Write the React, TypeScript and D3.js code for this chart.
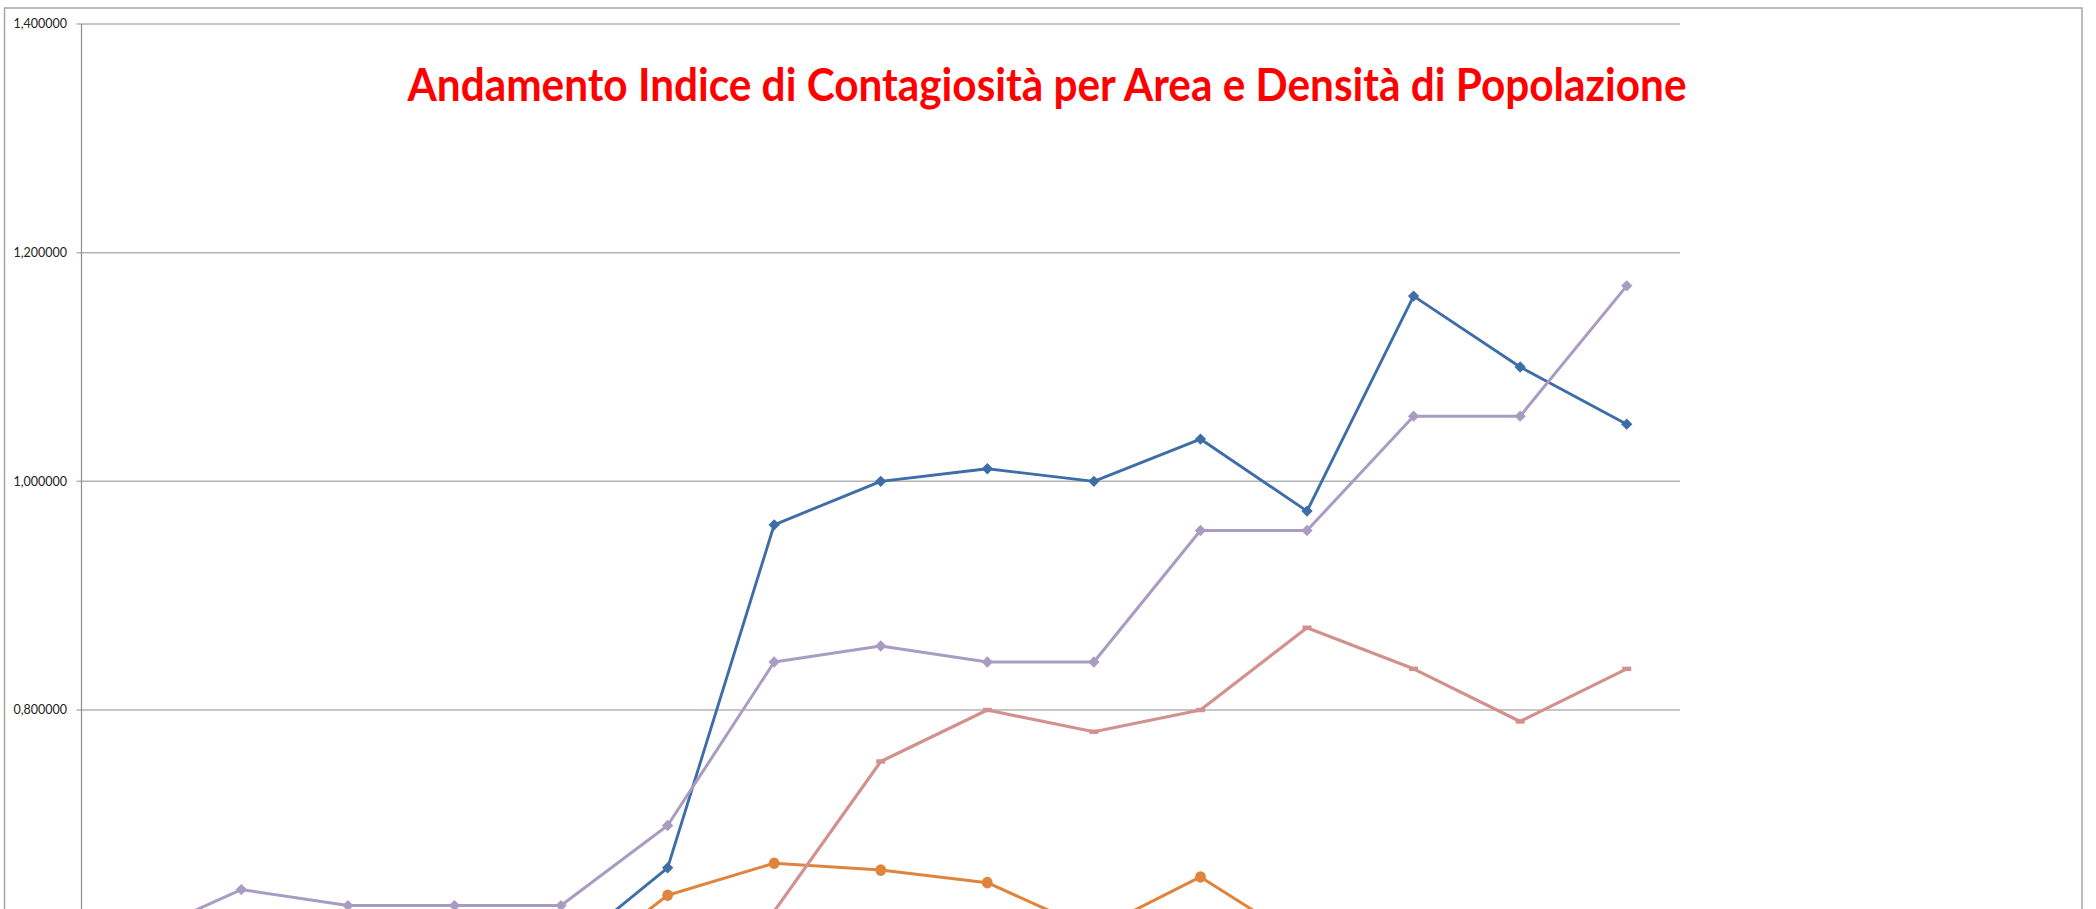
import React from 'react';
import * as d3 from 'd3';

// categories (x labels are cut off in the source, only position matters)
const categories = ['1', '2', '3', '4', '5', '6', '7', '8', '9', '10', '11', '12', '13', '14', '15'];

// values; null = below the visible area and not readable
const seriesBlue = [null, null, null, null, 0.586, 0.662, 0.962, 1.0, 1.011, 1.0, 1.037, 0.974, 1.162, 1.1, 1.05];
const seriesOrange = [null, null, null, null, 0.566, 0.638, 0.666, 0.66, 0.649, 0.607, 0.654, 0.595, null, null, null];
const seriesPink = [null, null, null, null, null, null, 0.624, 0.755, 0.8, 0.781, 0.8, 0.872, 0.836, 0.79, 0.836];
const seriesPurple = [0.601, 0.643, 0.629, 0.629, 0.629, 0.699, 0.842, 0.856, 0.842, 0.842, 0.957, 0.957, 1.057, 1.057, 1.171];

const yTicks = [0.8, 1.0, 1.2, 1.4];
const title = 'Andamento Indice di Contagiosità per Area e Densità di Popolazione';

const W = 2096;
const H = 909;

const itLocale = d3.formatLocale({ decimal: ',', thousands: '.', grouping: [3], currency: ['€', ''] });
const fmt = itLocale.format('.6f');

type Pt = number | null;

const App = () => {
  const plot = { left: 81.5, right: 1680, top: 24 };

  const x = d3.scaleBand<string>().domain(categories).range([plot.left, plot.right]);
  const cx = (c: string) => (x(c) as number) + x.bandwidth() / 2;

  const y = d3.scaleLinear().domain([0.6, 1.4]).range([938.7, plot.top]);

  const line = d3.line<Pt>()
    .defined(d => d != null)
    .x((d, i) => cx(categories[i]))
    .y(d => y(d as number));

  const diamond = d3.symbol(d3.symbolSquare, 64)();

  const series = [
    { name: 'blue', values: seriesBlue, color: '#3E6DA7', width: 2.9, marker: 'diamond' },
    { name: 'orange', values: seriesOrange, color: '#E0843C', width: 3, marker: 'circle' },
    { name: 'pink', values: seriesPink, color: '#D2918E', width: 3.2, marker: 'dash' },
    { name: 'purple', values: seriesPurple, color: '#A99CC2', width: 3, marker: 'diamond' },
  ];

  return (
    <svg width={W} height={H} style={{ position: 'absolute', left: 0, top: 0, background: '#fff' }}>
      {/* chart area border */}
      <rect x={4.5} y={8} width={2077.5} height={H + 20} fill="#fff" stroke="#A6A6A6" strokeWidth={1.5} />

      {/* gridlines + ticks + labels */}
      {yTicks.map(t => (
        <g key={t}>
          <line x1={plot.left - 5} x2={plot.right} y1={y(t)} y2={y(t)} stroke="#B3B3B3" strokeWidth={1.5} />
          <text x={67} y={y(t)} dy="0.35em" textAnchor="end" fontFamily="Lato" fontSize={12.5} fill="#222">
            {fmt(t)}
          </text>
        </g>
      ))}
      <line x1={plot.left} x2={plot.left} y1={plot.top} y2={H + 10} stroke="#8C8C8C" strokeWidth={1.2} />

      {/* series */}
      {series.map(s => (
        <g key={s.name}>
          <path d={line(s.values) || ''} fill="none" stroke={s.color} strokeWidth={s.width} strokeLinejoin="round" />
          {s.values.map((v, i) => {
            if (v == null) return null;
            const px = cx(categories[i]);
            const py = y(v);
            if (s.marker === 'circle') return <ellipse key={i} cx={px} cy={py} rx={5.4} ry={5.8} fill={s.color} />;
            if (s.marker === 'dash') return <rect key={i} x={px - 4.5} y={py - 2.2} width={9} height={4.4} fill={s.color} />;
            return <path key={i} d={diamond || ''} transform={`translate(${px},${py}) rotate(45)`} fill={s.color} />;
          })}
        </g>
      ))}

      <text x={1047} y={101} textAnchor="middle" fontFamily="Lato" fontWeight="bold" fontSize={46} fill="#FF0000"
        textLength={1279} lengthAdjust="spacingAndGlyphs">
        {title}
      </text>
    </svg>
  );
};

export default App;
